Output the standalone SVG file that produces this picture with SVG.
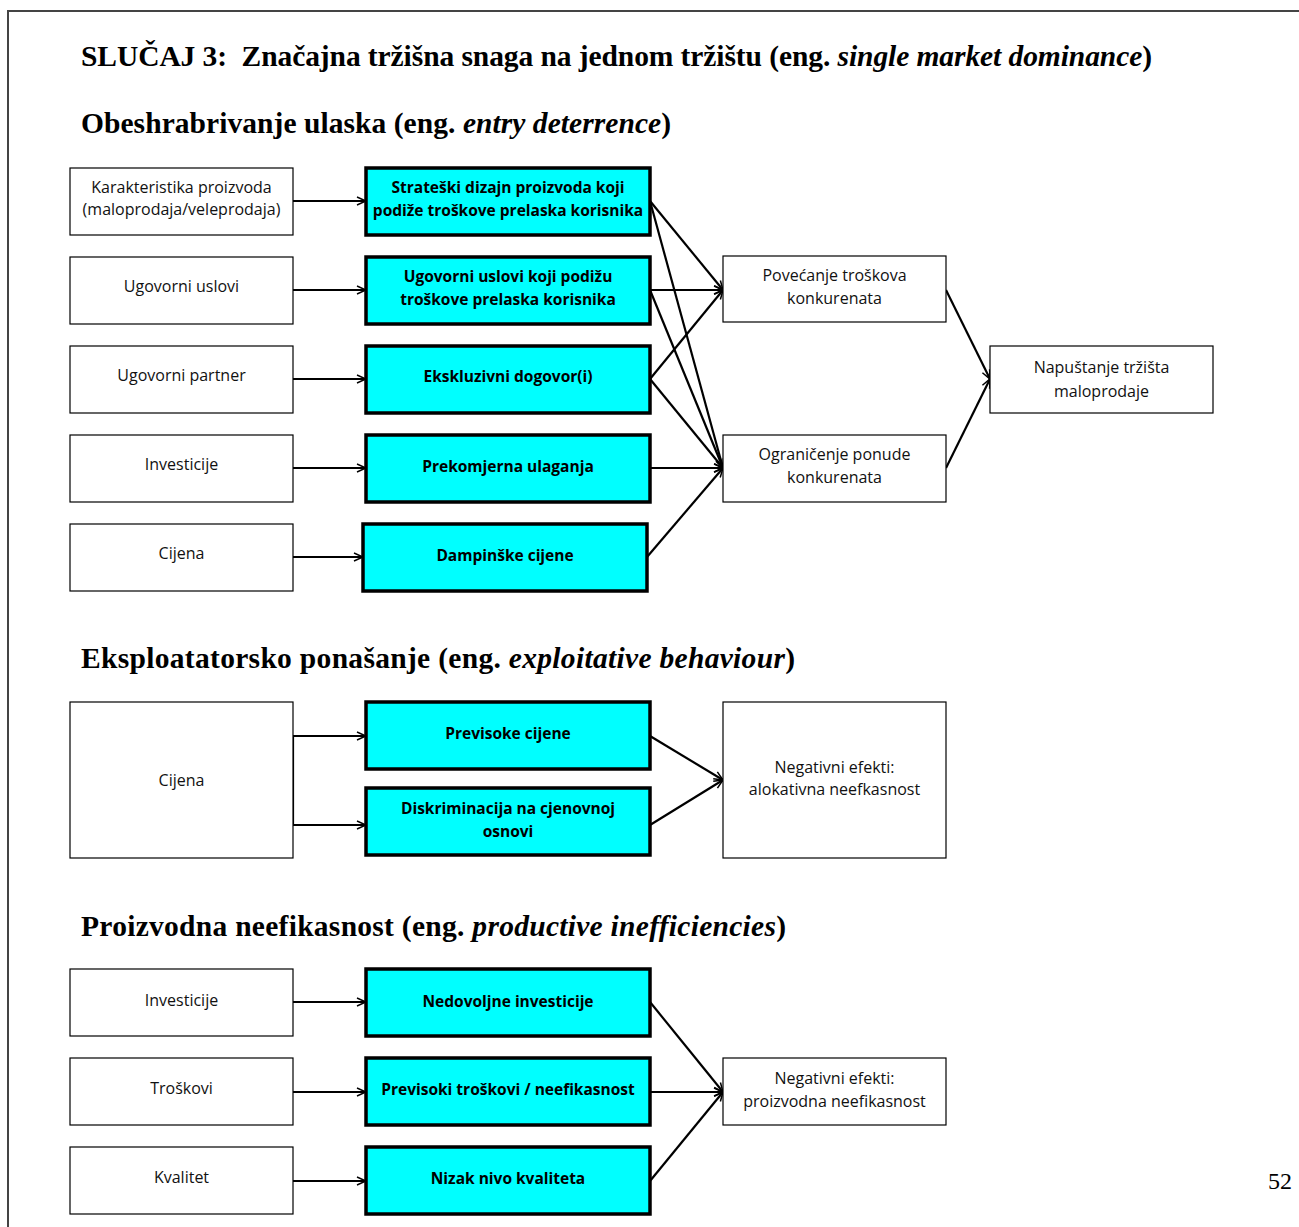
<svg xmlns="http://www.w3.org/2000/svg" width="1299" height="1227" viewBox="0 0 1299 1227">
<defs>
<marker id="ah" viewBox="0 0 10 10" refX="10" refY="5" markerWidth="10" markerHeight="10" markerUnits="userSpaceOnUse" orient="auto">
<path d="M1,1 L10,5 L1,9" fill="none" stroke="#000" stroke-width="1.5"/>
</marker>
<style>
.bg{fill:#fff}
.frame{fill:none;stroke:#444;stroke-width:2}
.h{font-family:"Liberation Serif","DejaVu Serif",serif;font-weight:bold;font-size:29.5px;fill:#000}
.h tspan.i{font-style:italic}
.box{fill:#fff;stroke:#000;stroke-width:1.2}
.cy{fill:#00ffff;stroke:#000;stroke-width:3.5}
.t{font-family:"Open Sans","Liberation Sans",sans-serif;font-size:16px;fill:#111;text-anchor:middle}
.tb{font-family:"Open Sans","Liberation Sans",sans-serif;font-size:15.5px;font-weight:bold;fill:#000;text-anchor:middle}
.c{fill:none;stroke:#000;stroke-width:2.2;marker-end:url(#ah)}
.cn{fill:none;stroke:#000;stroke-width:2.2}
.pn{font-family:"Liberation Serif",serif;font-size:24px;fill:#000}
</style>
</defs>
<rect class="bg" x="0" y="0" width="1299" height="1227"/>
<path class="frame" d="M8,1227 L8,11 L1299,11"/>
<text class="h" x="81" y="66" textLength="1071" style="white-space:pre">SLUČAJ 3:  Značajna tržišna snaga na jednom tržištu (eng. <tspan class="i">single market dominance</tspan>)</text>
<text class="h" x="81" y="133" textLength="590">Obeshrabrivanje ulaska (eng. <tspan class="i">entry deterrence</tspan>)</text>
<text class="h" x="81" y="668" textLength="714">Eksploatatorsko ponašanje (eng. <tspan class="i">exploitative behaviour</tspan>)</text>
<text class="h" x="81" y="936" textLength="705">Proizvodna neefikasnost (eng. <tspan class="i">productive inefficiencies</tspan>)</text>
<text class="pn" x="1268" y="1189">52</text>

<g id="connectors">
<path class="c" d="M293,201 L366,201"/>
<path class="c" d="M293,290 L366,290"/>
<path class="c" d="M293,379 L366,379"/>
<path class="c" d="M293,468 L366,468"/>
<path class="c" d="M293,557 L363,557"/>
<path class="c" d="M650,201 L723,290"/>
<path class="c" d="M650,290 L723,290"/>
<path class="c" d="M650,379 L723,290"/>
<path class="c" d="M650,201 L723,468"/>
<path class="c" d="M650,290 L723,468"/>
<path class="c" d="M650,379 L723,468"/>
<path class="c" d="M650,468 L723,468"/>
<path class="c" d="M647,557 L723,468"/>
<path class="c" d="M946,290 L990,379"/>
<path class="c" d="M946,468 L990,379"/>
<path class="cn" d="M293,780 L293,736"/>
<path class="cn" d="M293,780 L293,825"/>
<path class="c" d="M293,736 L366,736"/>
<path class="c" d="M293,825 L366,825"/>
<path class="c" d="M650,736 L723,780"/>
<path class="c" d="M650,825 L723,780"/>
<path class="c" d="M293,1002 L366,1002"/>
<path class="c" d="M293,1092 L366,1092"/>
<path class="c" d="M293,1181 L366,1181"/>
<path class="c" d="M650,1002 L723,1092"/>
<path class="c" d="M650,1092 L723,1092"/>
<path class="c" d="M650,1181 L723,1092"/>
</g>

<g id="n_karakteristika"><rect class="box" x="70" y="168" width="223" height="67"/><text class="t" x="181.5" y="193">Karakteristika proizvoda</text><text class="t" x="181.5" y="215">(maloprodaja/veleprodaja)</text></g>
<g id="n_ugovorni_uslovi"><rect class="box" x="70" y="257" width="223" height="67"/><text class="t" x="181.5" y="292">Ugovorni uslovi</text></g>
<g id="n_ugovorni_partner"><rect class="box" x="70" y="346" width="223" height="67"/><text class="t" x="181.5" y="381">Ugovorni partner</text></g>
<g id="n_investicije1"><rect class="box" x="70" y="435" width="223" height="67"/><text class="t" x="181.5" y="470">Investicije</text></g>
<g id="n_cijena1"><rect class="box" x="70" y="524" width="223" height="67"/><text class="t" x="181.5" y="559">Cijena</text></g>

<g id="n_strateski"><rect class="cy" x="366" y="168" width="284" height="67"/><text class="tb" x="508" y="193">Strateški dizajn proizvoda koji</text><text class="tb" x="508" y="216">podiže troškove prelaska korisnika</text></g>
<g id="n_ugovorni_podizu"><rect class="cy" x="366" y="257" width="284" height="67"/><text class="tb" x="508" y="282">Ugovorni uslovi koji podižu</text><text class="tb" x="508" y="305">troškove prelaska korisnika</text></g>
<g id="n_ekskluzivni"><rect class="cy" x="366" y="346" width="284" height="67"/><text class="tb" x="508" y="382">Ekskluzivni dogovor(i)</text></g>
<g id="n_prekomjerna"><rect class="cy" x="366" y="435" width="284" height="67"/><text class="tb" x="508" y="472">Prekomjerna ulaganja</text></g>
<g id="n_dampinske"><rect class="cy" x="363" y="524" width="284" height="67"/><text class="tb" x="505" y="561">Dampinške cijene</text></g>

<g id="n_povecanje"><rect class="box" x="723" y="256" width="223" height="66"/><text class="t" x="834.5" y="281">Povećanje troškova</text><text class="t" x="834.5" y="304">konkurenata</text></g>
<g id="n_ogranicenje"><rect class="box" x="723" y="435" width="223" height="67"/><text class="t" x="834.5" y="460">Ograničenje ponude</text><text class="t" x="834.5" y="483">konkurenata</text></g>
<g id="n_napustanje"><rect class="box" x="990" y="346" width="223" height="67"/><text class="t" x="1101.5" y="373">Napuštanje tržišta</text><text class="t" x="1101.5" y="397">maloprodaje</text></g>

<g id="n_cijena2"><rect class="box" x="70" y="702" width="223" height="156"/><text class="t" x="181.5" y="786">Cijena</text></g>
<g id="n_previsoke"><rect class="cy" x="366" y="702" width="284" height="67"/><text class="tb" x="508" y="739">Previsoke cijene</text></g>
<g id="n_diskriminacija"><rect class="cy" x="366" y="788" width="284" height="67"/><text class="tb" x="508" y="814">Diskriminacija na cjenovnoj</text><text class="tb" x="508" y="837">osnovi</text></g>
<g id="n_alokativna"><rect class="box" x="723" y="702" width="223" height="156"/><text class="t" x="834.5" y="773">Negativni efekti:</text><text class="t" x="834.5" y="795">alokativna neefkasnost</text></g>

<g id="n_investicije2"><rect class="box" x="70" y="969" width="223" height="67"/><text class="t" x="181.5" y="1006">Investicije</text></g>
<g id="n_troskovi"><rect class="box" x="70" y="1058" width="223" height="67"/><text class="t" x="181.5" y="1094">Troškovi</text></g>
<g id="n_kvalitet"><rect class="box" x="70" y="1147" width="223" height="67"/><text class="t" x="181.5" y="1183">Kvalitet</text></g>
<g id="n_nedovoljne"><rect class="cy" x="366" y="969" width="284" height="67"/><text class="tb" x="508" y="1007">Nedovoljne investicije</text></g>
<g id="n_previsoki_troskovi"><rect class="cy" x="366" y="1058" width="284" height="67"/><text class="tb" x="508" y="1095">Previsoki troškovi / neefikasnost</text></g>
<g id="n_nizak"><rect class="cy" x="366" y="1147" width="284" height="67"/><text class="tb" x="508" y="1184">Nizak nivo kvaliteta</text></g>
<g id="n_proizvodna"><rect class="box" x="723" y="1058" width="223" height="67"/><text class="t" x="834.5" y="1084">Negativni efekti:</text><text class="t" x="834.5" y="1107">proizvodna neefikasnost</text></g>
</svg>
